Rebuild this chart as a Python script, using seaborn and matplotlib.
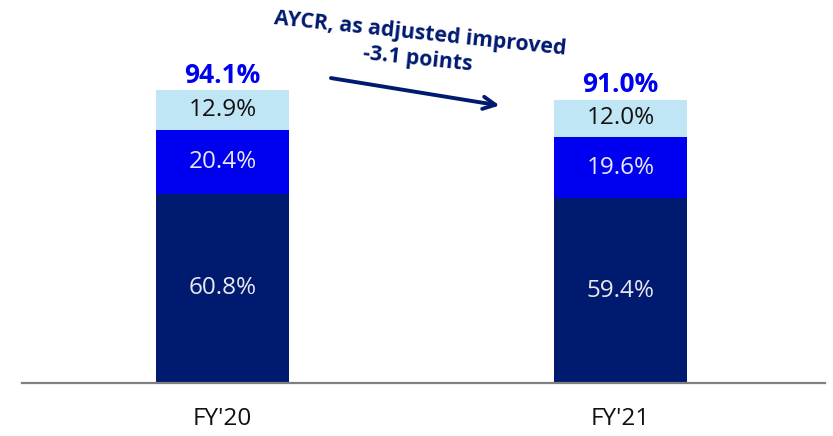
import matplotlib
matplotlib.use('Agg')
import matplotlib.pyplot as plt
import seaborn as sns
import pandas as pd
import numpy as np

# data
years = ["FY'20", "FY'21"]
base_part = [60.8, 59.4]     # bottom segment (navy)
mid_part = [20.4, 19.6]      # middle segment (blue)
top_part = [12.9, 12.0]      # top segment (light blue)
totals = [94.1, 91.0]
note_text = "AYCR, as adjusted improved\n-3.1 points"

navy = '#001a70'
blue = '#0000f0'
light = '#c0e6f6'

sns.set_style('white')
plt.rcParams['font.family'] = ['Open Sans', 'DejaVu Sans']

df = pd.DataFrame({'year': years, 'base': base_part, 'mid': mid_part, 'top': top_part})
df['cum_mid'] = df['base'] + df['mid']
df['cum_top'] = df['cum_mid'] + df['top']

fig = plt.figure(figsize=(8.33, 4.36), dpi=100)
ax = fig.add_axes([0.026, 0.1216, 0.964, 0.8784])

# stacked bars: draw cumulative heights back to front
bw = 0.334
sns.barplot(data=df, x='year', y='cum_top', color=light, width=bw, saturation=1, ax=ax, linewidth=0)
sns.barplot(data=df, x='year', y='cum_mid', color=blue, width=bw, saturation=1, ax=ax, linewidth=0)
sns.barplot(data=df, x='year', y='base', color=navy, width=bw, saturation=1, ax=ax, linewidth=0)

for i in range(len(years)):
    b = base_part[i]
    m = mid_part[i]
    t = top_part[i]
    ax.text(i, b / 2, f'{b:.1f}%', ha='center', va='center', fontsize=17.5, color='#e8e8f0')
    ax.text(i, b + m / 2, f'{m:.1f}%', ha='center', va='center', fontsize=17.5, color='#e8e8f0')
    ax.text(i, b + m + t / 2, f'{t:.1f}%', ha='center', va='center', fontsize=17.5, color='#111111')
    ax.text(i, totals[i] + 0.4, f'{totals[i]:.1f}%', ha='center', va='bottom', fontsize=19,
            color=blue, fontweight='bold')

ax.set_xlim(-0.505, 1.513)
ax.set_ylim(0, 123)
ax.set_xlabel('')
ax.set_ylabel('')
ax.set_yticks([])
ax.tick_params(axis='x', length=0, pad=17, labelsize=17.5, labelcolor='#111111')
for s in ['top', 'left', 'right']:
    ax.spines[s].set_visible(False)
ax.spines['bottom'].set_color('#7f7f7f')
ax.spines['bottom'].set_linewidth(1.6)

# annotation
fig.text(0.503, 0.893, note_text, ha='center', va='center', rotation=-6, fontsize=15.3,
         fontweight='bold', color=navy, linespacing=1.25, transform=fig.transFigure)
ax.annotate('', xy=(0.603, 0.757), xycoords='figure fraction',
            xytext=(0.394, 0.822), textcoords='figure fraction',
            arrowprops=dict(arrowstyle='->', color=navy, lw=2.8, mutation_scale=22))

fig.savefig('out.png', dpi=100)
